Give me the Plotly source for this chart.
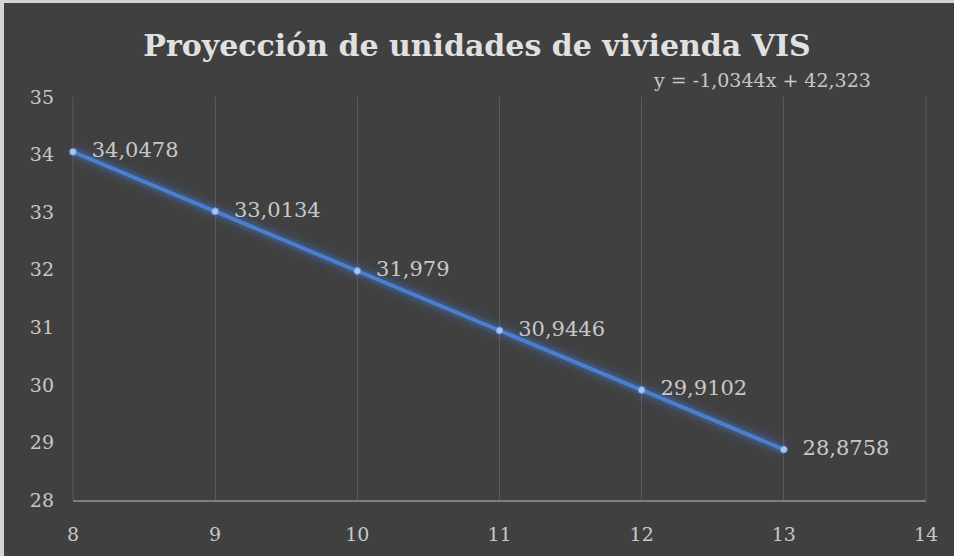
import plotly.graph_objects as go

x_vals = [8, 9, 10, 11, 12, 13]
y_vals = [34.0478, 33.0134, 31.979, 30.9446, 29.9102, 28.8758]
title_text = "Proyección de unidades de vivienda VIS"
equation_text = "y = -1,0344x + 42,323"
x_ticks = [8, 9, 10, 11, 12, 13, 14]
y_ticks = [28, 29, 30, 31, 32, 33, 34, 35]

labels = ["  " + f"{v:g}".replace(".", ",") for v in y_vals]

FONT = "DejaVu Serif"
TXT = "#c8c8c8"
BG = "#404040"

fig = go.Figure()
# glow layers
for w, a in [(22, 0.06), (15, 0.10), (10, 0.20)]:
    fig.add_trace(go.Scatter(x=x_vals, y=y_vals, mode="lines",
                             line=dict(color=f"rgba(70,120,210,{a})", width=w),
                             hoverinfo="skip", showlegend=False, cliponaxis=False))
fig.add_trace(go.Scatter(
    x=x_vals, y=y_vals, mode="lines+markers+text",
    line=dict(color="#4a7fd0", width=4),
    marker=dict(size=7, color="#a9c6ec", line=dict(color="#5b8fd8", width=1)),
    text=labels, textposition="middle right", cliponaxis=False,
    textfont=dict(family=FONT, size=21, color=TXT),
    showlegend=False))

W, H = 954, 556
ml, mr, mt, mb = 73, 28, 97, 56
pw, ph = W - ml - mr, H - mt - mb

fig.update_layout(
    width=W, height=H,
    margin=dict(l=ml, r=mr, t=mt, b=mb),
    paper_bgcolor=BG, plot_bgcolor=BG,
    separators=",.",
    title=dict(text="<b>" + title_text + "</b>", x=0.5, xanchor="center",
               y=1 - 45 / H, yanchor="middle",
               font=dict(family=FONT, size=30, color="#e0e0e0")),
    xaxis=dict(range=[8, 14], tickvals=x_ticks, showgrid=True, gridcolor="#5a5a5a",
               gridwidth=1, showline=True, linecolor="#808080", linewidth=2,
               zeroline=False, ticks="", ticklabelstandoff=16,
               tickfont=dict(family=FONT, size=19, color=TXT)),
    yaxis=dict(range=[28, 35], tickvals=y_ticks, showgrid=False, zeroline=False,
               showline=False, ticks="", ticklabelstandoff=18,
               tickfont=dict(family=FONT, size=19, color=TXT)),
    annotations=[dict(text=equation_text, xref="paper", yref="paper",
                      x=(762 - ml) / pw, y=(H - mb - 80) / ph, xanchor="center", yanchor="middle",
                      showarrow=False, font=dict(family=FONT, size=19, color=TXT))],
    shapes=[
        dict(type="line", xref="paper", yref="paper", x0=0, x1=0, y0=0, y1=1,
             line=dict(color="#5a5a5a", width=1), layer="below"),
        dict(type="line", xref="paper", yref="paper", x0=1, x1=1, y0=0, y1=1,
             line=dict(color="#5a5a5a", width=1), layer="below"),
        dict(type="rect", xref="paper", yref="paper",
             x0=-ml / pw, x1=(-ml + 4) / pw, y0=-mb / ph, y1=(ph + mt) / ph,
             fillcolor="#d4d4d4", line=dict(width=0), layer="above"),
        dict(type="rect", xref="paper", yref="paper",
             x0=-ml / pw, x1=(pw + mr) / pw, y0=(ph + mt - 3) / ph, y1=(ph + mt) / ph,
             fillcolor="#d4d4d4", line=dict(width=0), layer="above"),
    ],
)

fig.write_html("out.html", config={"displayModeBar": False},
               post_script="document.body.style.margin='0';document.body.style.overflow='hidden';")
